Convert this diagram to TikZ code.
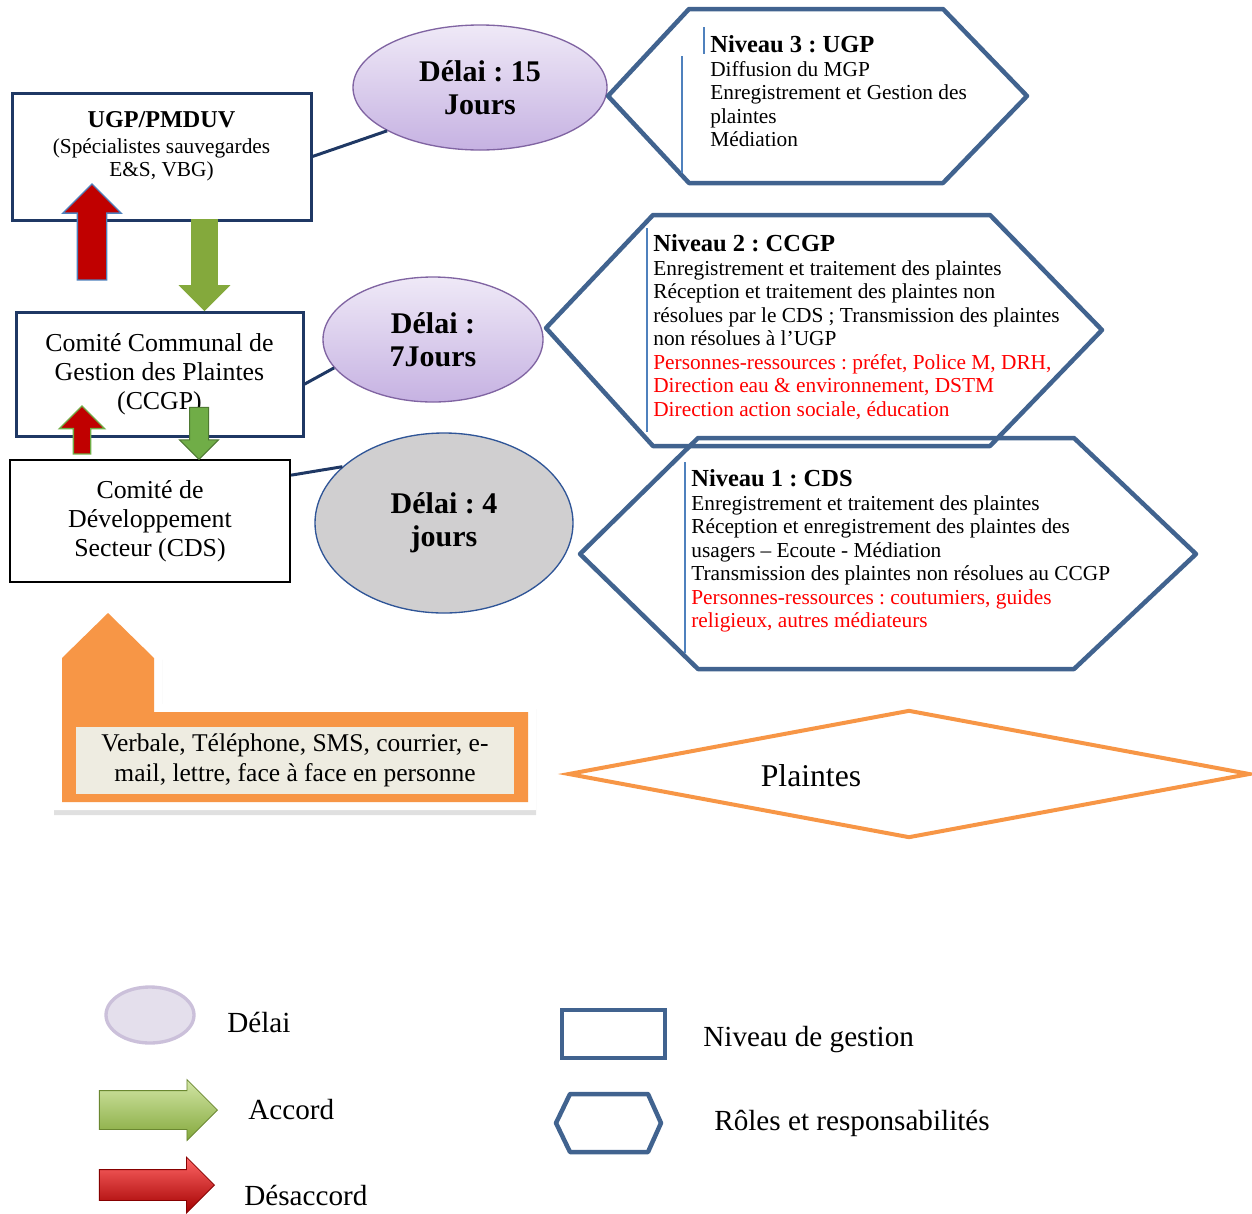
\documentclass[tikz,border=0pt]{standalone}
\usepackage{fontspec}
\setmainfont{Liberation Serif}
\usetikzlibrary{arrows,positioning,shapes.geometric,shapes.arrows}
\frenchspacing

\definecolor{navy}{HTML}{1F3864}
\definecolor{hexblue}{HTML}{41638F}
\definecolor{barblue}{HTML}{4F81BD}
\definecolor{lilacL}{HTML}{EFE9F7}
\definecolor{lilacM}{HTML}{C6B2E2}
\definecolor{lilacD}{HTML}{8064A2}
\definecolor{greyD}{HTML}{D0CFD0}
\definecolor{blueD}{HTML}{2F5597}
\definecolor{redA}{HTML}{C00000}
\definecolor{greenA}{HTML}{70AD47}
\definecolor{greenL}{HTML}{B4D46A}
\definecolor{greenM}{HTML}{84A93C}
\definecolor{orangeP}{HTML}{F79646}
\definecolor{beige}{HTML}{EEECE1}
\definecolor{legLilac}{HTML}{E4DFEC}
\definecolor{legLilacD}{HTML}{CBC0DA}

\begin{document}
\begin{tikzpicture}[x=0.6pt,y=-0.6pt,
niveau/.style={rectangle, draw=navy, line width=1.8pt, inner sep=0pt, align=center, font=\fontsize{15.5}{17.4}\selectfont},
delai/.style={ellipse, draw=lilacD, line width=0.8pt, top color=lilacL, bottom color=lilacM, inner sep=0pt, align=center, font=\bfseries\fontsize{18}{20}\selectfont},
role/.style={draw=hexblue, line width=2.7pt, line join=round},
rolebar/.style={draw=barblue, line width=1.5pt},
roletext/.style={anchor=north west, inner sep=0pt, align=left, font=\fontsize{12.8}{14.1}\selectfont},
link/.style={draw=navy, line width=1.8pt},
fleche/.style={single arrow, inner xsep=0pt, single arrow tip angle=90},
legtext/.style={anchor=west, inner sep=0pt, font=\fontsize{17.5}{20}\selectfont},
]
\useasboundingbox (0,0) rectangle (1252,1213);

%Levels
\node[niveau, minimum width=179.4pt, minimum height=76.2pt] (ugp) at (161.5,156.5) {};
\node[inner sep=0pt, align=center, font=\fontsize{12.8}{13.8}\selectfont, anchor=north] (ugptxt) at (161.5,111) {\textbf{\fontsize{14.5}{15}\selectfont UGP/PMDUV}\\[2pt] (Spécialistes sauvegardes\\ E\&S, VBG)};
\node[niveau, minimum width=172.2pt, minimum height=74.4pt] (ccgp) at (159.5,374) {Comité Communal de\\Gestion des Plaintes\\(CCGP)};
\node[niveau, draw=black, line width=1.3pt, minimum width=168pt, minimum height=73.2pt] (cds) at (150,521) {Comité de\\Développement\\Secteur (CDS)};

%Delays
\node[delai, minimum width=152.4pt, minimum height=75pt] (d15) at (480,87.5) {Délai : 15\\Jours};
\node[delai, minimum width=132pt, minimum height=75pt] (d7) at (433,339.5) {Délai :\\7Jours};
\node[delai, draw=blueD, top color=greyD, bottom color=greyD, minimum width=154.8pt, minimum height=108pt] (d4) at (444,523) {Délai : 4\\jours};

%Lines
\draw[link] (ugp.east) -- (d15.205);
\draw[link] (ccgp.-4) -- (d7.196);
\draw[link] (cds.18) -- (d4.151);

%Roles
\draw[role] (608,96) -- (689,9) -- (943,9) -- (1027,96) -- (943,183) -- (689,183) -- cycle;
\draw[role] (546,328) -- (653,215) -- (990,215) -- (1102,330) -- (990,446) -- (653,446) -- cycle;
\draw[role] (580,554) -- (698,438) -- (1074,438) -- (1196,554) -- (1074,669) -- (698,669) -- cycle;
\draw[rolebar] (682,56) -- (682,173);
\draw[rolebar] (704,27) -- (704,54);
\draw[rolebar] (647,228) -- (647,432);
\draw[rolebar] (685,462) -- (685,653);

\node[roletext] (n3) at (710,35.5) {\textbf{\fontsize{14.7}{14.1}\selectfont Niveau 3 : UGP}\\
Diffusion du MGP\\
Enregistrement et Gestion des\\
plaintes\\
Médiation};
\node[roletext] (n2) at (653,234.5) {\textbf{\fontsize{14.7}{14.1}\selectfont Niveau 2 : CCGP}\\
Enregistrement et traitement des plaintes\\
Réception et traitement des plaintes non\\
résolues par le CDS ; Transmission des plaintes\\
non résolues à l’UGP\\
\textcolor{red}{Personnes-ressources : préfet, Police M, DRH,}\\
\textcolor{red}{Direction eau \& environnement, DSTM}\\
\textcolor{red}{Direction action sociale, éducation}};
\node[roletext] (n1) at (691,469.5) {\textbf{\fontsize{14.7}{14.1}\selectfont Niveau 1 : CDS}\\
Enregistrement et traitement des plaintes\\
Réception et enregistrement des plaintes des\\
usagers – Ecoute - Médiation\\
Transmission des plaintes non résolues au CCGP\\
\textcolor{red}{Personnes-ressources : coutumiers, guides}\\
\textcolor{red}{religieux, autres médiateurs}};

%Arrows
\node[fleche, fill=redA, draw=barblue, line width=0.8pt, inner ysep=8.4pt, minimum height=57.6pt, minimum width=34.2pt, single arrow head extend=8.7pt, rotate=90, anchor=tip] (refus1) at (92,183) {};
\node[fleche, top color=greenM, middle color=greenL, bottom color=greenM, draw=greenM, line width=0.5pt, inner ysep=7.5pt, minimum height=54.6pt, minimum width=29.4pt, single arrow head extend=7.2pt, rotate=-90, anchor=tip] (accord1) at (204.5,311) {};
\node[fleche, fill=redA, draw=greenA, line width=0.8pt, inner ysep=4.8pt, minimum height=28.8pt, minimum width=26.4pt, single arrow head extend=8.4pt, rotate=90, anchor=tip] (refus2) at (82,405) {};
\node[fleche, fill=greenA, draw=greenA!70!black, line width=0.6pt, inner ysep=5.4pt, minimum height=31.2pt, minimum width=22.8pt, single arrow head extend=6pt, rotate=-90, anchor=tip] (accord2) at (199,460) {};

%Channels
\filldraw[black!12, line width=9.6pt, shift={(0,5)}] (62,802) -- (62,658) -- (108,613) -- (154,658) -- (154,712) -- (528,712) -- (528,802) -- cycle;
\filldraw[white, line width=9.6pt] (62,802) -- (62,658) -- (108,613) -- (154,658) -- (154,712) -- (528,712) -- (528,802) -- cycle;
\fill[orangeP] (62,802) -- (62,658) -- (108,613) -- (154,658) -- (154,712) -- (528,712) -- (528,802) -- cycle;
\node[fill=beige, inner sep=0pt, minimum width=262.8pt, minimum height=40.2pt, align=center, font=\fontsize{15.3}{18}\selectfont] (canaux) at (295,760.5) {Verbale, Téléphone, SMS, courrier, e-\\mail, lettre, face à face en personne};

\node[diamond, draw=orangeP, line width=2.4pt, inner sep=0pt, minimum width=409.2pt, minimum height=76.8pt] (plaintes) at (909,774) {};
\node[inner sep=0pt, font=\fontsize{19}{22}\selectfont] (plaintestxt) at (811,776) {Plaintes};

%Legend
\node[ellipse, fill=legLilac, draw=legLilacD, line width=2pt, minimum width=52.8pt, minimum height=33.6pt, inner sep=0pt] (legdelai) at (150,1015) {};
\node[legtext] (txtdelai) at (227,1022) {Délai};
\node[fleche, top color=greenL!60!white, bottom color=greenM, draw=greenM!80!black, line width=0.5pt, inner ysep=11.4pt, minimum height=70.8pt, minimum width=36pt, single arrow head extend=6.6pt, anchor=tip] (legaccord) at (218,1110) {};
\node[legtext] (txtaccord) at (248,1110) {Accord};
\node[fleche, top color=red!60!white, bottom color=redA!85!black, draw=redA!70!black, line width=0.5pt, inner ysep=9pt, minimum height=69pt, minimum width=33pt, single arrow head extend=7.5pt, anchor=tip] (legrefus) at (215,1185) {};
\node[legtext] (txtrefus) at (244,1195) {Désaccord};
\node[rectangle, draw=hexblue, line width=2.7pt, minimum width=61.8pt, minimum height=28.8pt, inner sep=0pt] (legniveau) at (613.5,1034) {};
\node[legtext] (txtniveau) at (703,1040) {Niveau de gestion};
\draw[role] (556,1123) -- (570,1094) -- (648,1094) -- (661,1123) -- (648,1152) -- (570,1152) -- cycle;
\node[legtext] (txtrole) at (714,1123) {Rôles et responsabilités};
\end{tikzpicture}
\end{document}
